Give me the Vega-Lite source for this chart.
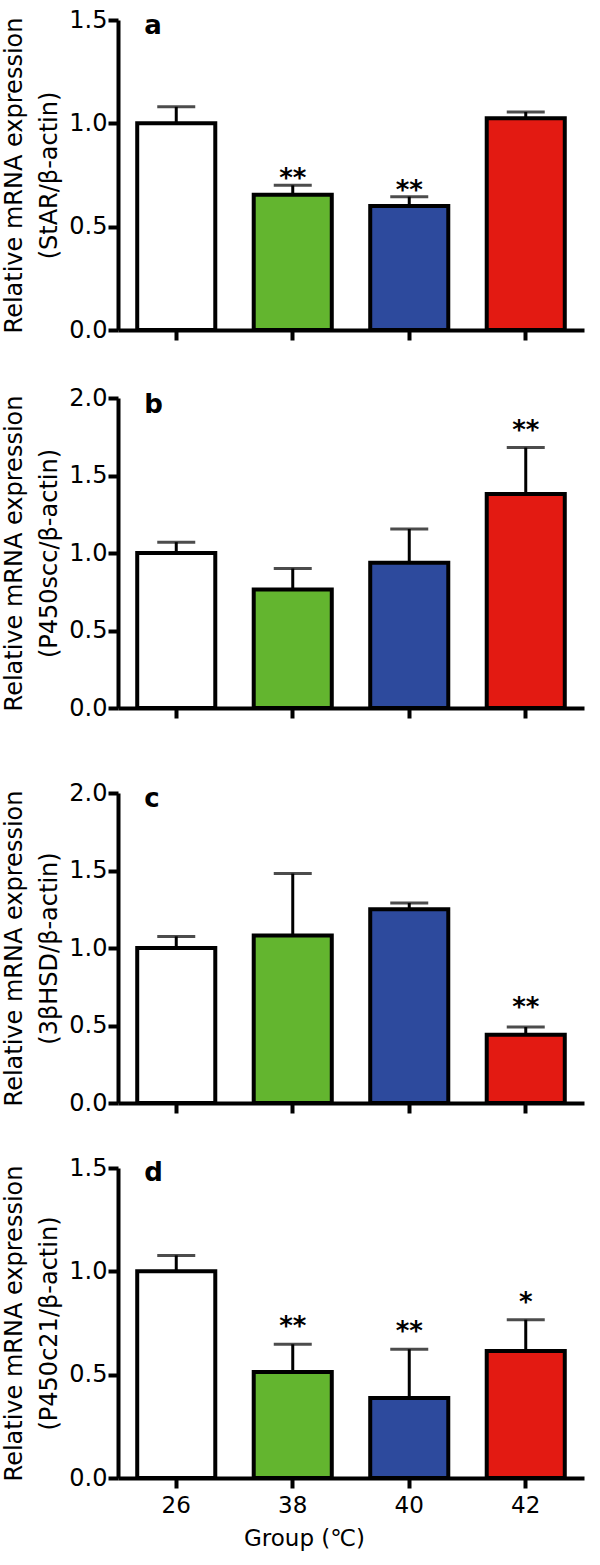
{
  "$schema": "https://vega.github.io/schema/vega-lite/v6.json",
  "background": "white",
  "padding": {"left": 2, "top": 8, "right": 5, "bottom": 5},
  "datasets": {
    "bars": [
      {"panel": "a", "group": "26", "mean": 1.0, "err": 1.08, "sig": ""},
      {"panel": "a", "group": "38", "mean": 0.655, "err": 0.70, "sig": "**"},
      {"panel": "a", "group": "40", "mean": 0.60, "err": 0.645, "sig": "**"},
      {"panel": "a", "group": "42", "mean": 1.025, "err": 1.055, "sig": ""},
      {"panel": "b", "group": "26", "mean": 1.0, "err": 1.07, "sig": ""},
      {"panel": "b", "group": "38", "mean": 0.765, "err": 0.90, "sig": ""},
      {"panel": "b", "group": "40", "mean": 0.937, "err": 1.155, "sig": ""},
      {"panel": "b", "group": "42", "mean": 1.38, "err": 1.68, "sig": "**"},
      {"panel": "c", "group": "26", "mean": 1.0, "err": 1.075, "sig": ""},
      {"panel": "c", "group": "38", "mean": 1.08, "err": 1.48, "sig": ""},
      {"panel": "c", "group": "40", "mean": 1.25, "err": 1.29, "sig": ""},
      {"panel": "c", "group": "42", "mean": 0.44, "err": 0.49, "sig": "**"},
      {"panel": "d", "group": "26", "mean": 1.0, "err": 1.077, "sig": ""},
      {"panel": "d", "group": "38", "mean": 0.513, "err": 0.647, "sig": "**"},
      {"panel": "d", "group": "40", "mean": 0.387, "err": 0.623, "sig": "**"},
      {"panel": "d", "group": "42", "mean": 0.614, "err": 0.766, "sig": "*"}
    ]
  },
  "config": {
    "view": {"stroke": null},
    "axis": {"grid": false, "domainColor": "black", "domainWidth": 4, "tickColor": "black", "tickWidth": 4, "tickSize": 10, "labelFont": "DejaVu Sans", "titleFont": "DejaVu Sans", "labelColor": "black", "titleColor": "black"},
    "text": {"font": "DejaVu Sans", "color": "black"}
  },
  "resolve": {"scale": {"x": "independent", "y": "independent", "color": "independent"}},
  "spacing": 61,
  "vconcat": [
    {
      "resolve": {"scale": {"x": "independent", "y": "independent", "color": "independent"}},
      "spacing": 44,
      "vconcat": [
        {
          "width": 466, "height": 310,
          "data": {"name": "bars"},
          "transform": [{"filter": "datum.panel === 'a'"}],
          "encoding": {"x": {"field": "group", "type": "nominal", "scale": {"paddingInner": 0.33, "paddingOuter": 0.165}, "axis": {"labels": false, "title": null}}},
          "layer": [
            {"mark": {"type": "bar", "stroke": "black", "strokeWidth": 4},
             "encoding": {
               "y": {"field": "mean", "type": "quantitative", "scale": {"domain": [0, 1.5], "nice": false}, "axis": {"values": [0, 0.5, 1, 1.5], "format": ".1f", "labelFontSize": 24, "labelPadding": 1, "titleFontSize": 24, "titleFontWeight": "normal", "titleLineHeight": 35, "titlePadding": 7, "title": ["Relative mRNA expression", "(StAR/β-actin)"]}},
               "color": {"field": "group", "type": "nominal", "scale": {"domain": ["26", "38", "40", "42"], "range": ["#ffffff", "#63b52f", "#2d4a9d", "#e31a12"]}, "legend": null}}},
            {"mark": {"type": "rule", "strokeWidth": 3, "color": "black"}, "encoding": {"y": {"field": "mean", "type": "quantitative"}, "y2": {"field": "err"}}},
            {"mark": {"type": "tick", "size": 38, "thickness": 3, "color": "black"}, "encoding": {"y": {"field": "err", "type": "quantitative"}}},
            {"mark": {"type": "text", "fontSize": 26, "fontWeight": "bold", "dy": -6}, "encoding": {"y": {"field": "err", "type": "quantitative"}, "text": {"field": "sig"}}},
            {"transform": [{"filter": "datum.group === '26'"}], "mark": {"type": "text", "text": "a", "fontSize": 26, "fontWeight": "bold", "align": "left", "baseline": "alphabetic", "dx": -32, "dy": 14}, "encoding": {"y": {"datum": 1.5, "type": "quantitative"}}}
          ]
        },
        {
          "width": 466, "height": 310,
          "data": {"name": "bars"},
          "transform": [{"filter": "datum.panel === 'b'"}],
          "encoding": {"x": {"field": "group", "type": "nominal", "scale": {"paddingInner": 0.33, "paddingOuter": 0.165}, "axis": {"labels": false, "title": null}}},
          "layer": [
            {"mark": {"type": "bar", "stroke": "black", "strokeWidth": 4},
             "encoding": {
               "y": {"field": "mean", "type": "quantitative", "scale": {"domain": [0, 2.0], "nice": false}, "axis": {"values": [0, 0.5, 1, 1.5, 2], "format": ".1f", "labelFontSize": 24, "labelPadding": 1, "titleFontSize": 24, "titleFontWeight": "normal", "titleLineHeight": 35, "titlePadding": 7, "title": ["Relative mRNA expression", "(P450scc/β-actin)"]}},
               "color": {"field": "group", "type": "nominal", "scale": {"domain": ["26", "38", "40", "42"], "range": ["#ffffff", "#63b52f", "#2d4a9d", "#e31a12"]}, "legend": null}}},
            {"mark": {"type": "rule", "strokeWidth": 3, "color": "black"}, "encoding": {"y": {"field": "mean", "type": "quantitative"}, "y2": {"field": "err"}}},
            {"mark": {"type": "tick", "size": 38, "thickness": 3, "color": "black"}, "encoding": {"y": {"field": "err", "type": "quantitative"}}},
            {"mark": {"type": "text", "fontSize": 26, "fontWeight": "bold", "dy": -17}, "encoding": {"y": {"field": "err", "type": "quantitative"}, "text": {"field": "sig"}}},
            {"transform": [{"filter": "datum.group === '26'"}], "mark": {"type": "text", "text": "b", "fontSize": 26, "fontWeight": "bold", "align": "left", "baseline": "alphabetic", "dx": -32, "dy": 15}, "encoding": {"y": {"datum": 2.0, "type": "quantitative"}}}
          ]
        }
      ]
    },
    {
      "resolve": {"scale": {"x": "independent", "y": "independent", "color": "independent"}},
      "spacing": 41,
      "vconcat": [
        {
          "width": 466, "height": 310,
          "data": {"name": "bars"},
          "transform": [{"filter": "datum.panel === 'c'"}],
          "encoding": {"x": {"field": "group", "type": "nominal", "scale": {"paddingInner": 0.33, "paddingOuter": 0.165}, "axis": {"labels": false, "title": null}}},
          "layer": [
            {"mark": {"type": "bar", "stroke": "black", "strokeWidth": 4},
             "encoding": {
               "y": {"field": "mean", "type": "quantitative", "scale": {"domain": [0, 2.0], "nice": false}, "axis": {"values": [0, 0.5, 1, 1.5, 2], "format": ".1f", "labelFontSize": 24, "labelPadding": 1, "titleFontSize": 24, "titleFontWeight": "normal", "titleLineHeight": 35, "titlePadding": 7, "title": ["Relative mRNA expression", "(3βHSD/β-actin)"]}},
               "color": {"field": "group", "type": "nominal", "scale": {"domain": ["26", "38", "40", "42"], "range": ["#ffffff", "#63b52f", "#2d4a9d", "#e31a12"]}, "legend": null}}},
            {"mark": {"type": "rule", "strokeWidth": 3, "color": "black"}, "encoding": {"y": {"field": "mean", "type": "quantitative"}, "y2": {"field": "err"}}},
            {"mark": {"type": "tick", "size": 38, "thickness": 3, "color": "black"}, "encoding": {"y": {"field": "err", "type": "quantitative"}}},
            {"mark": {"type": "text", "fontSize": 26, "fontWeight": "bold", "dy": -19}, "encoding": {"y": {"field": "err", "type": "quantitative"}, "text": {"field": "sig"}}},
            {"transform": [{"filter": "datum.group === '26'"}], "mark": {"type": "text", "text": "c", "fontSize": 26, "fontWeight": "bold", "align": "left", "baseline": "alphabetic", "dx": -32, "dy": 14}, "encoding": {"y": {"datum": 2.0, "type": "quantitative"}}}
          ]
        },
        {
          "width": 466, "height": 310,
          "data": {"name": "bars"},
          "transform": [{"filter": "datum.panel === 'd'"}],
          "encoding": {"x": {"field": "group", "type": "nominal", "scale": {"paddingInner": 0.33, "paddingOuter": 0.165}, "axis": {"labelAngle": 0, "labelFontSize": 23, "labelPadding": 6, "title": "Group (℃)", "titleFontSize": 23, "titleFontWeight": "normal", "titlePadding": 10, "titleAnchor": "middle", "titleX": 186}}},
          "layer": [
            {"mark": {"type": "bar", "stroke": "black", "strokeWidth": 4},
             "encoding": {
               "y": {"field": "mean", "type": "quantitative", "scale": {"domain": [0, 1.5], "nice": false}, "axis": {"values": [0, 0.5, 1, 1.5], "format": ".1f", "labelFontSize": 24, "labelPadding": 1, "titleFontSize": 24, "titleFontWeight": "normal", "titleLineHeight": 35, "titlePadding": 7, "title": ["Relative mRNA expression", "(P450c21/β-actin)"]}},
               "color": {"field": "group", "type": "nominal", "scale": {"domain": ["26", "38", "40", "42"], "range": ["#ffffff", "#63b52f", "#2d4a9d", "#e31a12"]}, "legend": null}}},
            {"mark": {"type": "rule", "strokeWidth": 3, "color": "black"}, "encoding": {"y": {"field": "mean", "type": "quantitative"}, "y2": {"field": "err"}}},
            {"mark": {"type": "tick", "size": 38, "thickness": 3, "color": "black"}, "encoding": {"y": {"field": "err", "type": "quantitative"}}},
            {"mark": {"type": "text", "fontSize": 26, "fontWeight": "bold", "dy": -17}, "encoding": {"y": {"field": "err", "type": "quantitative"}, "text": {"field": "sig"}}},
            {"transform": [{"filter": "datum.group === '26'"}], "mark": {"type": "text", "text": "d", "fontSize": 26, "fontWeight": "bold", "align": "left", "baseline": "alphabetic", "dx": -32, "dy": 13}, "encoding": {"y": {"datum": 1.5, "type": "quantitative"}}}
          ]
        }
      ]
    }
  ]
}
